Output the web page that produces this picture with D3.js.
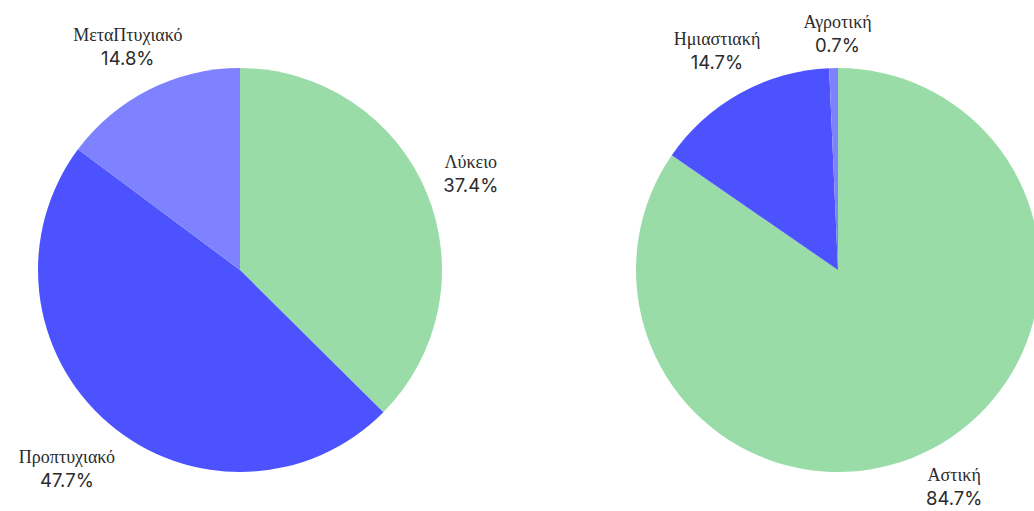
<!DOCTYPE html>
<html>
<head>
<meta charset="utf-8">
<script src="https://cdn.jsdelivr.net/npm/d3@7"></script>
<style>
  html, body { margin: 0; padding: 0; background: #ffffff; }
  svg { display: block; }
  .cat { font-family: "Liberation Serif", "DejaVu Serif", serif; font-size: 18px; fill: #2b2b2b; }
  .pct { font-family: "Inter", "Noto Sans", sans-serif; font-size: 18.5px; fill: #2b2b2b; }
</style>
</head>
<body>
<svg id="chart" width="1034" height="511"></svg>
<script>
// Education level
const eduCategories = ["Λύκειο", "Προπτυχιακό", "ΜεταΠτυχιακό"];
const eduValues = [37.4, 47.7, 14.8];

// Area of residence
const areaCategories = ["Αστική", "Ημιαστιακή", "Αγροτική"];
const areaValues = [84.7, 14.7, 0.7];

const sliceColors = ["#9adca8", "#4b52fe", "#7f82fe"];

const svg = d3.select("#chart");
const radius = 202;
const labelRadius = 250;

function drawPie(cx, cy, categories, values, nudges) {
  const g = svg.append("g").attr("transform", `translate(${cx},${cy})`);
  const data = categories.map((c, i) => ({ name: c, value: values[i], idx: i }));
  const pie = d3.pie().value(d => d.value).sort(null);
  const arcs = pie(data);
  const arc = d3.arc().innerRadius(0).outerRadius(radius);
  const color = d3.scaleOrdinal().domain(d3.range(categories.length)).range(sliceColors);

  g.selectAll("path.slice")
    .data(arcs)
    .join("path")
    .attr("class", "slice")
    .attr("d", arc)
    .attr("fill", d => color(d.data.idx));

  const labelArc = d3.arc().innerRadius(labelRadius).outerRadius(labelRadius);
  const labels = g.selectAll("g.label")
    .data(arcs)
    .join("g")
    .attr("class", "label")
    .attr("transform", (d, i) => {
      const [x, y] = labelArc.centroid(d);
      const n = nudges[i] || [0, 0];
      return `translate(${x + n[0]},${y + n[1]})`;
    });

  labels.append("text")
    .attr("class", "cat")
    .attr("text-anchor", "middle")
    .attr("y", -6)
    .text(d => d.data.name);

  labels.append("text")
    .attr("class", "pct")
    .attr("text-anchor", "middle")
    .attr("y", 18)
    .text(d => d.data.value.toFixed(1) + "%");
}

drawPie(240, 270, eduCategories, eduValues, [[0, 0], [-10, 10], [0, 0]]);
drawPie(838, 270, areaCategories, areaValues, [[0, -4], [0, 0], [5, 14]]);
</script>
</body>
</html>
